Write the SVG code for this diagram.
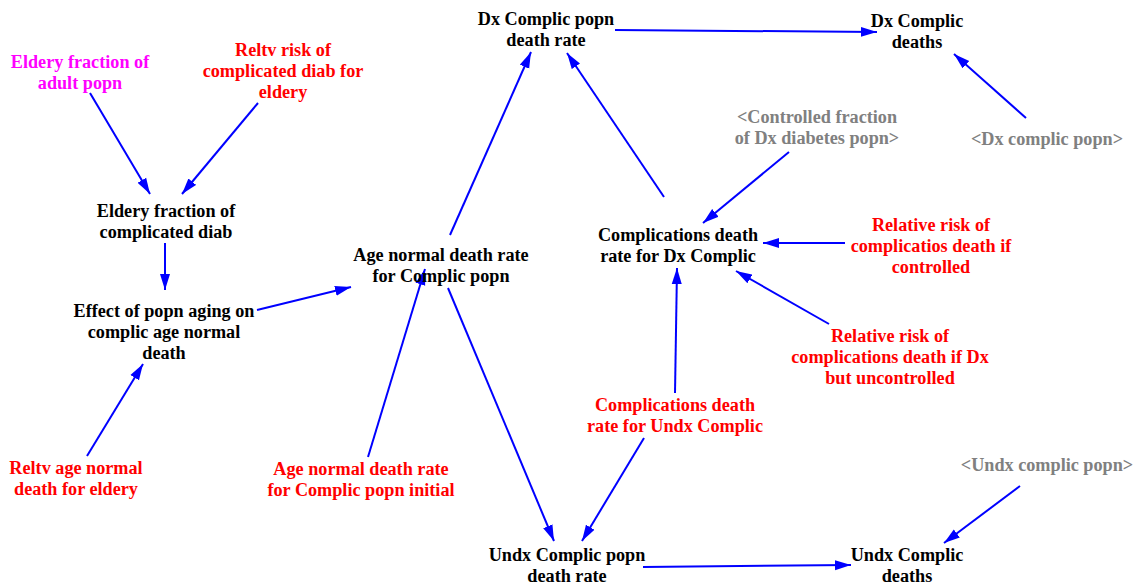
<svg xmlns="http://www.w3.org/2000/svg" width="1136" height="585" viewBox="0 0 1136 585">
  <style>
    text { font-family: 'Liberation Serif', 'DejaVu Serif', serif; font-weight: 700; font-size: 18.2px; text-anchor: middle; }
    .aux { fill: #000000; }
    .const { fill: #FF0000; }
    .lookup { fill: #FF00FF; }
    .shadow { fill: #808080; }
    .link { stroke: #0000FF; stroke-width: 2; fill: none; marker-end: url(#arrow); }
  </style>
  <defs>
    <marker id="arrow" viewBox="0 0 16 10" refX="16" refY="5" markerWidth="16" markerHeight="11" markerUnits="userSpaceOnUse" orient="auto">
      <path d="M0,0 L16,5 L0,10 Z" fill="#0000FF"/>
    </marker>
  </defs>
  <rect width="1136" height="585" fill="#FFFFFF"/>

  <g id="connectors">
    <line class="link" x1="90" y1="93" x2="150" y2="194"/>
    <line class="link" x1="258" y1="103" x2="182" y2="194"/>
    <line class="link" x1="165" y1="243" x2="165" y2="290"/>
    <line class="link" x1="257" y1="310" x2="351" y2="287"/>
    <line class="link" x1="87" y1="456" x2="143" y2="364"/>
    <line class="link" x1="368" y1="457" x2="425" y2="269"/>
    <line class="link" x1="450" y1="235" x2="531" y2="52"/>
    <line class="link" x1="664" y1="197" x2="567" y2="53"/>
    <line class="link" x1="448" y1="288" x2="554" y2="541"/>
    <line class="link" x1="644" y1="438" x2="582" y2="541"/>
    <line class="link" x1="675" y1="393" x2="677" y2="268"/>
    <line class="link" x1="789" y1="152" x2="703" y2="223"/>
    <line class="link" x1="845" y1="243" x2="763" y2="243"/>
    <line class="link" x1="829" y1="324" x2="736" y2="271"/>
    <line class="link" x1="1026" y1="118" x2="954" y2="54"/>
    <line class="link" x1="615" y1="30" x2="877" y2="32"/>
    <line class="link" x1="1020" y1="486" x2="944" y2="543"/>
    <line class="link" x1="643" y1="567" x2="851" y2="565"/>
  </g>

  <g id="eldery-fraction-adult">
    <text class="lookup" x="80" y="68">Eldery fraction of</text>
    <text class="lookup" x="80" y="89">adult popn</text>
  </g>
  <g id="reltv-risk-complicated">
    <text class="const" x="283" y="56">Reltv risk of</text>
    <text class="const" x="283" y="77">complicated diab for</text>
    <text class="const" x="283" y="98">eldery</text>
  </g>
  <g id="eldery-fraction-complicated">
    <text class="aux" x="166" y="217">Eldery fraction of</text>
    <text class="aux" x="166" y="238">complicated diab</text>
  </g>
  <g id="effect-popn-aging">
    <text class="aux" x="164" y="317">Effect of popn aging on</text>
    <text class="aux" x="164" y="338">complic age normal</text>
    <text class="aux" x="164" y="359">death</text>
  </g>
  <g id="reltv-age-normal">
    <text class="const" x="76" y="474">Reltv age normal</text>
    <text class="const" x="76" y="495">death for eldery</text>
  </g>
  <g id="age-normal-initial">
    <text class="const" x="361" y="475">Age normal death rate</text>
    <text class="const" x="361" y="496">for Complic popn initial</text>
  </g>
  <g id="age-normal-death-rate">
    <text class="aux" x="441" y="261">Age normal death rate</text>
    <text class="aux" x="441" y="282">for Complic popn</text>
  </g>
  <g id="dx-complic-popn-death-rate">
    <text class="aux" x="546" y="25">Dx Complic popn</text>
    <text class="aux" x="546" y="46">death rate</text>
  </g>
  <g id="dx-complic-deaths">
    <text class="aux" x="917" y="27">Dx Complic</text>
    <text class="aux" x="917" y="48">deaths</text>
  </g>
  <g id="dx-complic-popn">
    <text class="shadow" x="1047" y="145">&lt;Dx complic popn&gt;</text>
  </g>
  <g id="controlled-fraction">
    <text class="shadow" x="817" y="123">&lt;Controlled fraction</text>
    <text class="shadow" x="817" y="144">of Dx diabetes popn&gt;</text>
  </g>
  <g id="complications-death-dx">
    <text class="aux" x="678" y="241">Complications death</text>
    <text class="aux" x="678" y="262">rate for Dx Complic</text>
  </g>
  <g id="rr-controlled">
    <text class="const" x="931" y="231">Relative risk of</text>
    <text class="const" x="931" y="252">complicatios death if</text>
    <text class="const" x="931" y="273">controlled</text>
  </g>
  <g id="rr-uncontrolled">
    <text class="const" x="890" y="342">Relative risk of</text>
    <text class="const" x="890" y="363">complications death if Dx</text>
    <text class="const" x="890" y="384">but uncontrolled</text>
  </g>
  <g id="complications-death-undx">
    <text class="const" x="675" y="411">Complications death</text>
    <text class="const" x="675" y="432">rate for Undx Complic</text>
  </g>
  <g id="undx-complic-popn">
    <text class="shadow" x="1047" y="471">&lt;Undx complic popn&gt;</text>
  </g>
  <g id="undx-complic-popn-death-rate">
    <text class="aux" x="567" y="561">Undx Complic popn</text>
    <text class="aux" x="567" y="582">death rate</text>
  </g>
  <g id="undx-complic-deaths">
    <text class="aux" x="907" y="561">Undx Complic</text>
    <text class="aux" x="907" y="582">deaths</text>
  </g>
</svg>
